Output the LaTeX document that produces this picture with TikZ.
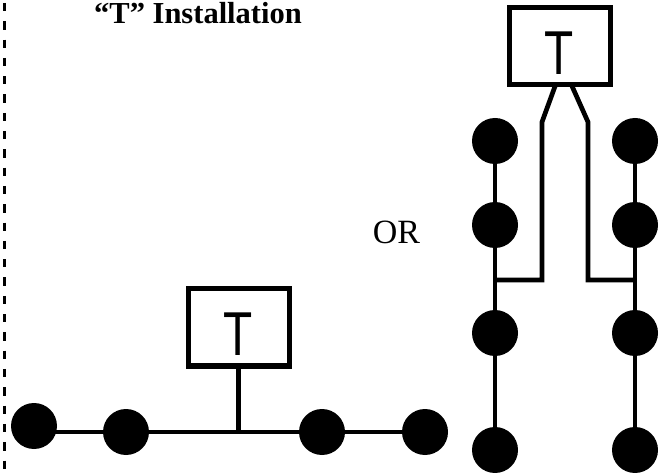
\documentclass[tikz,border=0pt]{standalone}
\usepackage{fontspec}
\setmainfont{Liberation Serif}
\newfontfamily\tsans{Liberation Sans}
\newcommand{\boxT}{\raisebox{-7pt}[\height][0pt]{\scalebox{0.77}[1]{\tsans\fontsize{62}{62}\selectfont T}}}
\begin{document}
\begin{tikzpicture}[x=1pt,y=-1pt,
  dot/.style={circle,fill=black,draw=none,minimum size=46pt,inner sep=0pt},
  tbox/.style={draw=black,line width=5pt,minimum width=101pt,minimum height=77pt,inner sep=0pt,fill=white},
  wire/.style={line width=4.7pt,line join=miter},
  divider/.style={line width=2.6pt,dash pattern=on 8.3pt off 10pt}]
\useasboundingbox (0,0) rectangle (670,473);
% divider
\coordinate (dtop) at (4.5,3);
\coordinate (dbot) at (4.5,473);
\draw[divider] (dtop) -- (dbot);
% title
\node[anchor=base,font=\fontsize{30.5}{31}\selectfont\bfseries,inner sep=0pt] (title) at (198,23.5) {“T” Installation};
% OR
\node[anchor=base,font=\fontsize{34}{34}\selectfont,inner sep=0pt] (or) at (396.5,244) {OR};
% bottom row
\node[dot] (a1) at (34,426) {};
\node[dot] (a2) at (126,432) {};
\node[dot] (a3) at (322,432) {};
\node[dot] (a4) at (425,432) {};
\node[tbox] (tb) at (238.5,327.5) {\boxT};
\coordinate (j) at (238.5,432);
\draw[wire] (a1.center |- j) -- (a4.center);
\draw[wire] (tb.south) -- (j);
% right column
\node[tbox] (tr) at (559.5,46.5) {\boxT};
\node[dot] (b1) at (495,141) {};
\node[dot] (b2) at (495,225) {};
\node[dot] (b3) at (495,333) {};
\node[dot] (b4) at (495,450) {};
\node[dot] (c1) at (635,141) {};
\node[dot] (c2) at (635,225) {};
\node[dot] (c3) at (635,333) {};
\node[dot] (c4) at (635,450) {};
\draw[wire] (b1.center) -- (b4.center);
\draw[wire] (c1.center) -- (c4.center);
\coordinate (l0) at (555.5,85);
\coordinate (l1) at (542,122);
\coordinate (l2) at (542,280);
\coordinate (r0) at (571.5,85);
\coordinate (r1) at (588,122);
\coordinate (r2) at (588,280);
\draw[wire] (l0) -- (l1) -- (l2) -- (b1.center |- l2);
\draw[wire] (r0) -- (r1) -- (r2) -- (c1.center |- r2);
\end{tikzpicture}
\end{document}
